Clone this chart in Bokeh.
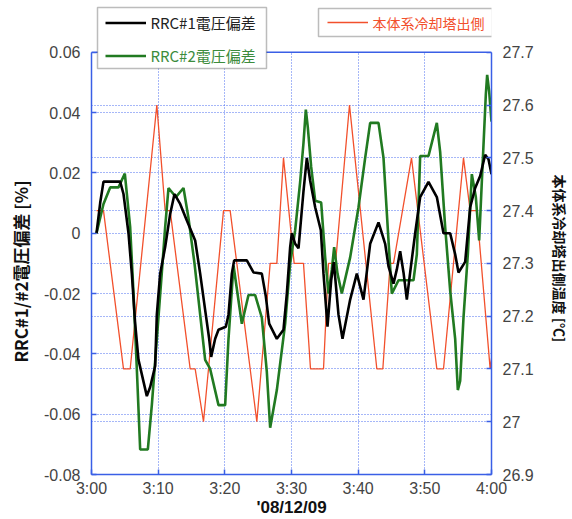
from bokeh.plotting import figure
from bokeh.models import (Range1d, LinearAxis, FixedTicker, Grid, Legend,
                          LegendItem, Label, BoxAnnotation, Span)
from bokeh.embed import file_html
from bokeh.resources import INLINE

# ---------------- data (minutes after 3:00) ----------------
t_rrc1 = [0.75, 1.3, 1.8, 4.3, 4.8, 5.55, 6.05, 6.55, 7.05, 8.3, 8.8, 9.55, 9.8,
          10.3, 11.05, 11.8, 12.45, 13.3, 14.3, 15.55, 16.3, 17.05, 17.65, 17.95,
          18.55, 19.05, 20.15, 20.55, 21.05, 21.4, 23.3, 24.3, 25.55, 26.15, 26.65,
          27.8, 28.8, 29.3, 29.8, 30.05, 30.55, 31.05, 31.8, 32.3, 32.8, 33.55,
          34.4, 34.8, 35.4, 35.95, 36.35, 37.05, 37.65, 38.8, 39.8, 40.8, 41.8,
          43.05, 44.05, 44.55, 45.3, 45.8, 46.3, 46.8, 47.3, 47.8, 48.55, 49.3,
          50.55, 51.8, 52.8, 53.8, 54.55, 55.05, 56.05, 56.8, 57.55, 58.3, 59.05,
          59.55, 60.0]
v_rrc1 = [0.0, 0.010, 0.0171, 0.0171, 0.013, 0.0, -0.0134, -0.030, -0.042, -0.054,
          -0.051, -0.044, -0.027, -0.0134, -0.0046, 0.0064, 0.013, 0.0097, 0.0042,
          -0.0024, -0.0134, -0.0255, -0.035, -0.041, -0.035, -0.032, -0.031, -0.027,
          -0.0134, -0.009, -0.009, -0.013, -0.0134, -0.021, -0.030, -0.035, -0.032,
          -0.020, -0.0046, 0.0, -0.0035, -0.005, 0.014, 0.025, 0.0174, 0.0086,
          0.001, -0.0134, -0.031, -0.0156, -0.0096, -0.027, -0.035, -0.022,
          -0.0134, -0.022, -0.0035, 0.0036, -0.0035, -0.011, -0.0167, -0.012,
          -0.006, -0.013, -0.022, -0.013, 0.0, 0.012, 0.017, 0.012, 0.0, 0.0,
          -0.007, -0.013, -0.0095, 0.0086, 0.015, 0.019, 0.026, 0.0245, 0.0196]

t_rrc2 = [0.75, 1.8, 2.8, 4.05, 5.0, 5.8, 6.3, 6.8, 7.3, 8.45, 9.05, 9.8, 10.55,
          11.05, 11.55, 12.65, 13.8, 14.55, 15.45, 17.05, 17.8, 19.05, 20.05,
          20.55, 21.3, 22.55, 23.55, 24.55, 25.55, 26.3, 26.8, 27.8, 29.05, 29.8,
          30.55, 31.3, 31.8, 32.15, 32.45, 32.95, 33.55, 34.45, 35.05, 35.55,
          36.05, 36.4, 36.9, 37.55, 38.8, 40.05, 41.05, 41.8, 43.05, 43.8, 44.55,
          45.05, 46.05, 48.3, 48.8, 49.3, 50.55, 51.8, 52.3, 53.05, 53.8, 54.55,
          54.95, 55.3, 55.8, 56.45, 57.05, 57.65, 58.15, 58.65, 59.15, 59.35,
          59.65, 60.0]
v_rrc2 = [0.0, 0.0097, 0.0152, 0.0152, 0.0198, 0.002, -0.020, -0.045, -0.0717,
          -0.0717, -0.057, -0.035, -0.013, 0.002, 0.015, 0.012, 0.015, 0.005, -0.010,
          -0.042, -0.045, -0.057, -0.057, -0.035, -0.0107, -0.030, -0.0205, -0.0205,
          -0.028, -0.046, -0.0645, -0.052, -0.030, -0.010, 0.001, 0.017, 0.030,
          0.041, 0.035, 0.022, 0.0108, 0.0102, -0.008, -0.020, -0.012, -0.0046,
          -0.0134, -0.020, -0.008, 0.0086, 0.025, 0.0366, 0.0366, 0.025, -0.0024,
          -0.020, -0.0156, -0.0156, -0.007, 0.0256, 0.0256, 0.0366, 0.027, 0.002,
          -0.019, -0.035, -0.052, -0.049, -0.028, -0.007, 0.0196, 0.012, -0.0024,
          0.022, 0.046, 0.0525, 0.047, 0.037]

t_temp = [0.75, 1.8, 4.8, 5.8, 9.8, 11.05, 11.8, 14.8, 15.55, 16.8, 19.8, 20.8,
          24.8, 26.8, 27.8, 28.8, 30.4, 31.8, 32.85, 34.8, 35.55, 36.6, 38.7, 42.8,
          43.7, 44.8, 45.3, 48.0, 51.8, 52.8, 55.8, 56.8, 57.8, 59.8, 60.0]
v_temp = [27.4, 27.4, 27.1, 27.1, 27.6, 27.4, 27.4, 27.1, 27.1, 27.0, 27.4, 27.4,
          27.0, 27.3, 27.3, 27.5, 27.3, 27.3, 27.1, 27.1, 27.3, 27.3, 27.6, 27.1,
          27.1, 27.3, 27.3, 27.5, 27.1, 27.1, 27.5, 27.4, 27.4, 27.1, 27.12]

x_ticks = [0, 10, 20, 30, 40, 50, 60]
x_tick_labels = ["3:00", "3:10", "3:20", "3:30", "3:40", "3:50", "4:00"]
left_ticks = [-0.08, -0.06, -0.04, -0.02, 0, 0.02, 0.04, 0.06]
left_tick_labels = ["-0.08", "-0.06", "-0.04", "-0.02", "0", "0.02", "0.04", "0.06"]
right_ticks = [26.9, 27.0, 27.1, 27.2, 27.3, 27.4, 27.5, 27.6, 27.7]
right_tick_labels = ["26.9", "27", "27.1", "27.2", "27.3", "27.4", "27.5", "27.6", "27.7"]

series_names = ["RRC#1電圧偏差", "RRC#2電圧偏差", "本体系冷却塔出側"]
left_title = "RRC#1/#2電圧偏差 [%]"
right_title = "本体系冷却塔出側温度 [℃]"
x_title = "'08/12/09"

# ---------------- layout / styling ----------------
W, H = 572, 519
FRAME_L, FRAME_R, FRAME_T, FRAME_B = 91, 491, 52, 476   # visible plot box
BLUE = "#3a5fe6"
GRID = "#4d6ff0"
C1 = "#000000"
C2 = "#217a21"
C3 = "#f2502c"
NUM_FONT = "Liberation Sans"
JP_FONT = "Noto Sans CJK JP"

# the Bokeh frame reaches the top of the canvas so the legends above the
# plot box are not clipped; ranges are extended by the matching amount
box_px = FRAME_B - FRAME_T
ly0, ly1 = left_ticks[0], left_ticks[-1]
ry0, ry1 = right_ticks[0], right_ticks[-1]
ly_top = ly1 + FRAME_T * (ly1 - ly0) / box_px
ry_top = ry1 + FRAME_T * (ry1 - ry0) / box_px

p = figure(width=W, height=H, x_range=Range1d(x_ticks[0], x_ticks[-1]),
           y_range=Range1d(ly0, ly_top), output_backend="svg",
           toolbar_location=None, min_border_left=FRAME_L,
           min_border_right=W - FRAME_R, min_border_top=0,
           min_border_bottom=H - FRAME_B)
p.extra_y_ranges = {"temp": Range1d(ry0, ry_top)}
p.outline_line_color = None
p.background_fill_color = "white"
p.border_fill_color = "white"


def style_axis(ax):
    ax.axis_line_color = BLUE
    ax.axis_line_width = 1.5
    ax.major_tick_line_color = BLUE
    ax.major_tick_line_width = 1.5
    ax.major_tick_in = 5
    ax.major_tick_out = 0
    ax.minor_tick_line_color = None
    ax.major_label_text_font = NUM_FONT
    ax.major_label_text_font_size = "16px"
    ax.major_label_text_color = "#444444"
    ax.axis_label_text_font_style = "bold"
    ax.axis_label_text_color = "#111111"


# bottom axis
xa = p.xaxis[0]
style_axis(xa)
xa.ticker = FixedTicker(ticks=x_ticks)
xa.major_label_overrides = dict(zip(x_ticks, x_tick_labels))
xa.major_label_standoff = 5
xa.axis_label = x_title
xa.axis_label_text_font = NUM_FONT
xa.axis_label_text_font_size = "17px"
xa.axis_label_standoff = -2

# left axis (ideographic spaces keep the title centred on the plot box)
ya = p.yaxis[0]
style_axis(ya)
ya.bounds = (ly0, ly1)
ya.ticker = FixedTicker(ticks=left_ticks)
ya.major_label_overrides = dict(zip(left_ticks, left_tick_labels))
ya.major_label_standoff = 11
ya.axis_label = left_title + "\u3000" * 4
ya.axis_label_text_font = JP_FONT
ya.axis_label_text_font_size = "17px"
ya.axis_label_standoff = 8

# right axis
ra = LinearAxis(y_range_name="temp", ticker=FixedTicker(ticks=right_ticks),
                bounds=(ry0, ry1))
style_axis(ra)
ra.major_label_overrides = dict(zip(right_ticks, right_tick_labels))
ra.major_label_standoff = 11
ra.axis_label = "\u3000" * 3 + right_title
ra.axis_label_text_font = JP_FONT
ra.axis_label_text_font_size = "14px"
ra.axis_label_standoff = 13
p.add_layout(ra, "right")

# grids
for g in (p.xgrid[0], p.ygrid[0]):
    g.grid_line_color = GRID
    g.grid_line_dash = "1 2"
    g.grid_line_width = 1
p.xgrid[0].ticker = FixedTicker(ticks=x_ticks)
p.ygrid[0].ticker = FixedTicker(ticks=left_ticks)
g2 = Grid(dimension=1, ticker=FixedTicker(ticks=right_ticks), y_range_name="temp",
          grid_line_color=GRID, grid_line_dash="1 2", grid_line_width=1)
p.add_layout(g2)

# lines
r3 = p.line(t_temp, v_temp, y_range_name="temp", line_color=C3, line_width=1.3)
r2 = p.line(t_rrc2, v_rrc2, line_color=C2, line_width=2.6)
r1 = p.line(t_rrc1, v_rrc1, line_color=C1, line_width=2.6)

# blank strip above the plot box, and the box's top edge
p.add_layout(BoxAnnotation(bottom=ly1, fill_color="white", fill_alpha=1.0,
                           line_color=None))
p.add_layout(Span(location=ly1, dimension="width", line_color=BLUE,
                  line_width=1.5))

# legend boxes (canvas px: left, top, right, bottom) and their row centres
legend_boxes = [(97, 9, 266, 70), (318, 10, 492, 38)]
row_y = [[24, 57], [24]]
for (bl, bt, br, bb) in legend_boxes:
    p.add_layout(BoxAnnotation(left=bl - FRAME_L, right=br - FRAME_L,
                               top=FRAME_B - bt, bottom=FRAME_B - bb,
                               left_units="screen", right_units="screen",
                               top_units="screen", bottom_units="screen",
                               fill_color="white", fill_alpha=1.0,
                               line_color="#222222", line_width=1.5))


def make_legend(items, box, rows, h, spacing, inset):
    # borderless legend => no padding; it only supplies the line samples
    bottom = rows[-1] + h / 2
    return Legend(items=items, location=(box[0] + inset - FRAME_L, FRAME_B - bottom),
                  orientation="vertical", padding=0,
                  spacing=spacing, margin=0, glyph_width=41, glyph_height=h,
                  label_height=h, label_width=60, label_standoff=4,
                  label_text_font_size="8px", label_text_alpha=0,
                  border_line_color=None, background_fill_alpha=0.0)


leg1 = make_legend([LegendItem(label=series_names[0], renderers=[r1]),
                    LegendItem(label=series_names[1], renderers=[r2])],
                   legend_boxes[0], row_y[0], 13, 20, 8)
leg2 = make_legend([LegendItem(label=series_names[2], renderers=[r3])],
                   legend_boxes[1], row_y[1], 12, 0, 9)
p.add_layout(leg1)
p.add_layout(leg2)

label_x = [150, 150, 372]
label_y = [row_y[0][0], row_y[0][1], row_y[1][0]]
label_col = ["#222222", "#3c8c3c", "#f2502c"]
label_size = ["15px", "15px", "14px"]
for txt, x, y, col, sz in zip(series_names, label_x, label_y, label_col, label_size):
    p.add_layout(Label(x=x - FRAME_L, y=FRAME_B - y, x_units="screen",
                       y_units="screen", text=txt, text_align="left",
                       text_baseline="middle", text_font=JP_FONT,
                       text_font_size=sz, text_color=col))

open("out.html", "w").write(file_html(p, INLINE))
